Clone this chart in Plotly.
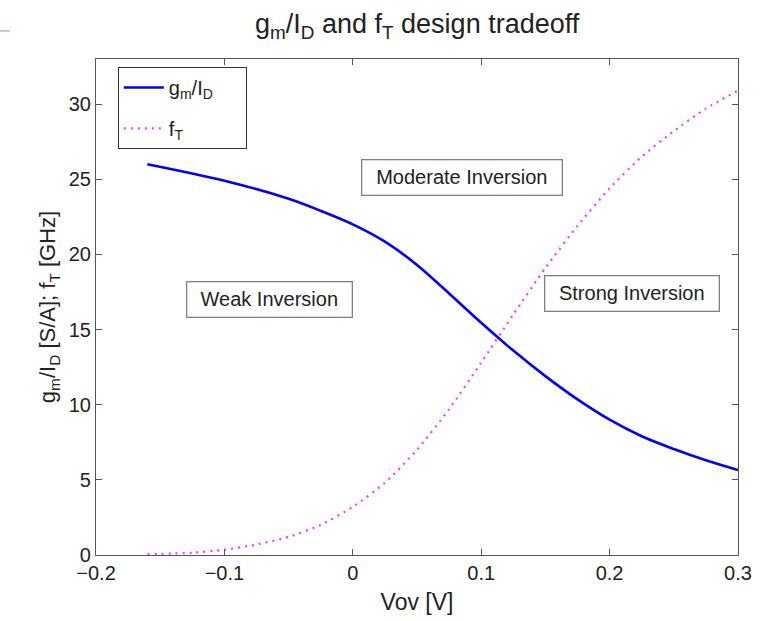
import plotly.graph_objects as go

# Data
vov_gm = [-0.16, -0.1, -0.05, -0.025, 0.0, 0.025, 0.05, 0.075, 0.1, 0.125, 0.15, 0.175, 0.2, 0.225, 0.25, 0.275, 0.3]
gm_id = [26.0, 24.9, 23.7, 22.9, 22.0, 20.85, 19.3, 17.4, 15.45, 13.6, 11.9, 10.35, 9.0, 7.9, 7.05, 6.3, 5.65]

vov_ft = [-0.16, -0.125, -0.1, -0.075, -0.05, -0.025, 0.0, 0.025, 0.05, 0.075, 0.1, 0.125, 0.15, 0.175, 0.2, 0.225, 0.25, 0.275, 0.3]
f_t = [0.05, 0.15, 0.35, 0.7, 1.2, 2.0, 3.2, 4.8, 7.0, 9.7, 12.8, 16.0, 19.1, 21.9, 24.4, 26.5, 28.2, 29.7, 30.9]

x_ticks = [-0.2, -0.1, 0.0, 0.1, 0.2, 0.3]
x_tick_labels = ["\u22120.2", "\u22120.1", "0", "0.1", "0.2", "0.3"]
y_ticks = [0, 5, 10, 15, 20, 25, 30]

region_labels = ["Moderate Inversion", "Weak Inversion", "Strong Inversion"]
region_x = [0.085, -0.0645, 0.2175]
region_y = [25.1, 17.0, 17.4]

FONT = "Liberation Sans, Arial, Helvetica, sans-serif"
TXT = "#222222"
NB = "\u00a0"

fig = go.Figure()
fig.add_trace(go.Scatter(
    x=vov_gm, y=gm_id, mode="lines", name="g<sub>m</sub>/I<sub>D</sub>" + NB * 5,
    legendgroup="a",
    line=dict(color="#0000ff", width=2.6, shape="spline", smoothing=0.9)))
fig.add_trace(go.Scatter(
    x=vov_ft, y=f_t, mode="lines", name="f<sub>T</sub>",
    legendgroup="b",
    line=dict(color="#ff33ff", width=2.2, dash="2px,5px", shape="spline", smoothing=0.6)))

box_widths = [191, 156, 165]
for lab, ax_, ay_, bw in zip(region_labels, region_x, region_y, box_widths):
    fig.add_annotation(x=ax_, y=ay_, text=lab, showarrow=False,
                       font=dict(family=FONT, size=20, color=TXT),
                       width=bw, height=26, align="center",
                       bgcolor="white", bordercolor="#808080", borderwidth=1.3,
                       borderpad=4)

# small stray mark at top-left of the reference image
fig.add_shape(type="line", xref="paper", yref="paper",
              x0=-0.1495, x1=-0.134, y0=1.0565, y1=1.0565,
              line=dict(color="#6a9ad8", width=1))

axis_common = dict(
    showgrid=False, zeroline=False, showline=True, linecolor="#555555", linewidth=1.2,
    mirror="ticks", ticks="inside", ticklen=6, tickcolor="#555555", tickwidth=1,
    tickfont=dict(family=FONT, size=20, color=TXT),
)

fig.update_layout(
    width=763, height=621,
    margin=dict(l=96, r=25, t=59, b=66),
    paper_bgcolor="white", plot_bgcolor="white",
    title=dict(text="g<sub>m</sub>/I<sub>D</sub> and f<sub>T</sub> design tradeoff",
               x=0.5467, xanchor="center", y=0.962, yanchor="middle",
               font=dict(family=FONT, size=27, color=TXT)),
    xaxis=dict(range=[-0.2, 0.3], tickvals=x_ticks, ticktext=x_tick_labels,
               title=dict(text="Vov [V]", font=dict(family=FONT, size=23, color=TXT), standoff=10),
               **axis_common),
    yaxis=dict(range=[0, 33], tickvals=y_ticks,
               title=dict(text="g<sub>m</sub>/I<sub>D</sub> [S/A]; f<sub>T</sub> [GHz]",
                          font=dict(family=FONT, size=22, color=TXT), standoff=6),
               **axis_common),
    legend=dict(x=0.034, y=0.984, xanchor="left", yanchor="top",
                bgcolor="white", bordercolor="#333333", borderwidth=1,
                font=dict(family=FONT, size=20, color=TXT),
                tracegroupgap=12, itemwidth=40),
    showlegend=True,
)

fig.write_html("out.html")
